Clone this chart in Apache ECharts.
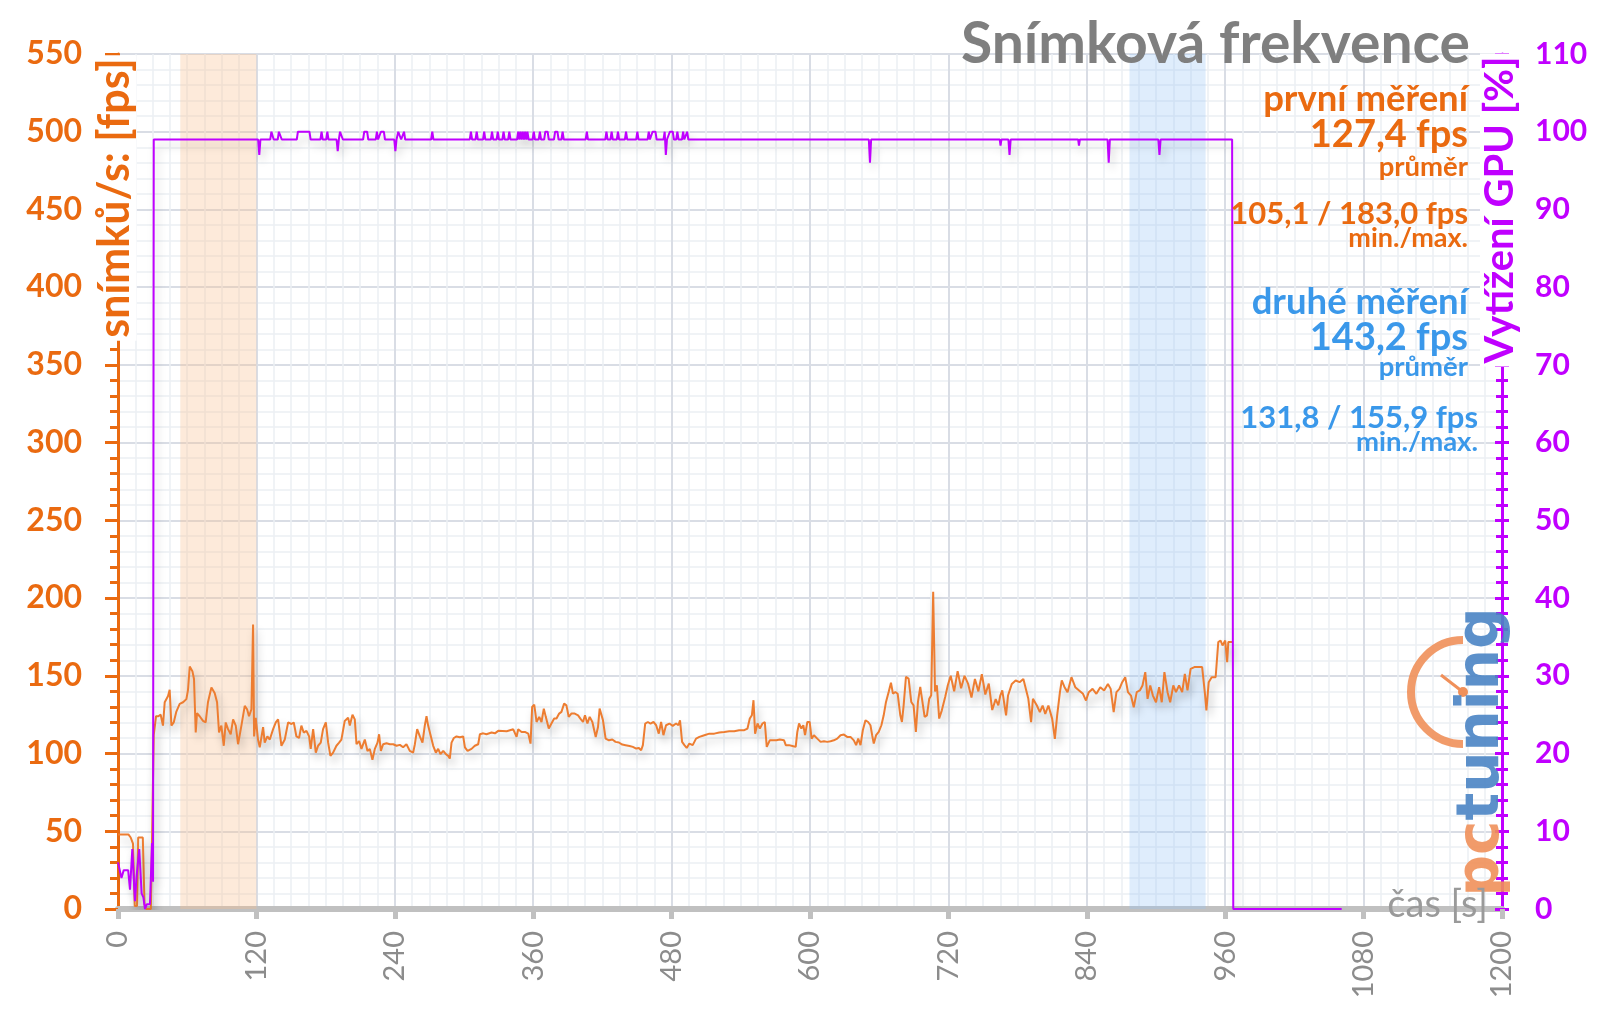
<!DOCTYPE html>
<html>
<head>
<meta charset="utf-8">
<script src="https://cdn.jsdelivr.net/npm/echarts@6/dist/echarts.min.js"></script>
<style>html,body{margin:0;padding:0;background:#fff;}#c{width:1600px;height:1009px;}</style>
</head>
<body>
<div id="c"></div>
<script>
// ---- data ----
const xTicks = [0,120,240,360,480,600,720,840,960,1080,1200];
const fpsTime = [0,3,9,11,13,14.5,16.5,17.5,21.5,23,24.5,28.5,29.5,30.5,
31,33,35,37,39,40.5,42,43.4,44.8,46.3,48.3,50.6,53.5,56.4,59.3,60.7,62.2,64.5,65.9,67.4,68.5,70.8,73.7,76,78,81,83.8,85.9,87.6,89.6,91.7,93.4,95.4,97.7,99.8,102.1,104.1,107,109.9,111.9,113.6,115.7,117.1,118,119.4,121.4,122.9,125.8,127.2,129.5,131.6,134.5,136.8,138.8,141.7,144.6,147.5,150.4,152.4,154.7,157,159,161,163.4,165.7,167.1,169.2,171.5,173.5,175.8,177.8,180.2,182.2,184.2,186.5,189.4,191.7,193.7,196.6,198.1,199.5,201,203.3,205.3,206.8,209.1,211.1,214,216.3,218.3,220.6,222.7,225,226.4,227.9,229.9,232.8,235.7,238.6,241.5,244.4,247.2,250.1,253,255.9,257.4,259.4,261.7,264,266,267.5,268.9,271.3,273.3,275.6,277.6,279.6,282,284.3,286.3,287.7,289.2,291.2,293.5,296.4,299.3,300.8,303.1,306.5,309.4,312.3,313.8,316.7,319.5,323.9,326.8,329.7,
331.2,337,342.7,345.6,347,349.9,352.8,355.7,357.7,359.1,360.9,362.9,365.2,367.2,369.2,370.9,373.5,375.8,378.2,380.2,382.5,384.5,386.8,388.8,390.8,393.1,396,398.9,400.9,403.2,404.9,407,409,411.3,414.2,416.2,417.6,419.1,420.5,422.8,425.7,428.6,431.4,434.3,437.2,440.1,443.5,446.4,449.3,451.6,453.6,455.1,457.1,459.4,461.7,464.3,466.6,468.9,470.9,472.9,475.2,478.1,481,483.9,485.9,487.3,489.1,491.1,493.1,495.4,498.3,501.2,504.1,508.4,512.7,517,521.3,525.7,530,534.3,538.6,543,545.8,547.8,549.6,551,552.4,554.5,556.5,558.8,560.8,562.5,565.1,568,570.9,573.8,577.5,579,581.8,584.7,587.6,589,590.5,592.5,594.2,595.7,597.7,599.7,601.4,603.4,606.3,609.2,612.1,615,617.8,620.7,623.6,626.5,629.4,632.2,635.1,638,640,641.8,643.8,645.8,648.1,650.4,652.4,653.9,655.3,657.3,659.6,661.9,663.9,665.9,668.2,670.2,671.9,674,676,678.3,679.7,681.2,683.2,685.5,687.8,689.8,691.8,693.6,695.6,697.1,699.4,701.4,703.4,705.1,706.8,708.4,710,712,714.3,717.2,719.5,
722,725,728,731,734,737,740,743,746,749,752,755,758,761,
763.3,765,766.7,770,771.7,775,778.3,781.7,785,786.7,789.3,791.7,793.3,796.7,799.3,801.7,804,806.7,810,812.3,814.3,816.7,818.3,820.7,823.3,826.7,830,833.3,836.7,839.3,841.7,845,848.3,851.7,855,858.3,860.7,863.3,865.7,868.3,870.7,873.3,875.7,878.3,880.7,883.3,886,888.3,890.7,892.7,895,897.3,900,902.7,905,907.3,910,912.3,915,917.3,920,922.7,925,927.3,930,933.3,936.7,940,942.3,943.7,945.7,948.3,951.7,954,956,957.7,960,961.7,962.7,966];
const fpsValue = [48,48,48,46,42,2,2,46,46,3,0,0,45,45,
112,124,124,125,118,133,134,137,141,118,120,127,132,133,135,141,156,153,148,113.5,126,124,121,120,133,142.5,139,133,113.5,118,105,120,115.7,112.4,122,118,106,118,130.7,128.5,124,128.5,183,111,123,109,104,117,107,111,109,115.7,120,122,105,109,120,119,120,111,110,118,113.5,114.6,111,103,115.7,100.6,105,107,115.7,120,107,98.5,100.6,105,107,109,121,122,123,118,125,122,106,108,103,109,101.7,103,96,103,107,112.4,101.7,106,106.6,106,106,105,105.6,104,106,101.7,100.6,106,115.7,111,107,118,124,118,111,105,100.6,103,99.6,101.7,99.6,98.5,96.8,107,110,111,110.5,111,104,101.7,103,105,106,112.4,113,112.4,113.5,113,114.6,
115,114.3,115.6,110.7,115.6,113.9,113.9,112.8,106.4,130,131.5,120.3,123.6,120.3,128.9,123.6,116.1,119.3,122.5,122.5,125.7,126.8,132.1,131,123.6,125.7,125.7,124.6,122.5,120.3,124.6,119.3,123.6,120.3,110.7,117.1,128.9,129.3,121.4,109.6,108.5,109,107.5,107.1,105.8,105.4,104.9,104.3,103.2,103.6,102.1,105.4,119.3,120.3,119.3,120.3,118.2,112.8,120.3,111.8,118.2,119.3,117.8,119.3,118.2,121.4,107.5,105.4,103.6,106.4,105.4,109.6,110.7,111.8,112.8,112.8,113.5,113.9,114.3,114.3,115,115,116.1,122.5,124.6,134.3,112.8,119.3,116.1,119.3,120.3,104.3,108.5,108.5,108.5,109,108.5,105.4,105.4,104.9,104.3,113.9,119.3,116.1,118.2,111.8,120.3,120.3,109.6,111.8,109.6,107.5,107.9,107.5,107.9,108.5,109.6,111.8,112.2,110.7,110.7,108.5,105.4,109.6,105.4,115,121.4,120.3,118.2,111.8,106.4,111.8,113.9,118.2,124.6,133.2,139.6,145.6,138.5,139.6,138.5,124.6,120.3,131,149.3,148.2,133.2,131,113.9,133.2,142.8,141.7,123.6,124.6,135.3,137.5,204,140,143.9,122.5,127.8,136.4,143.9,
150,140,153,142,150,145,136,148,140,151,138,145,128,135,
131,137.3,140.6,124.5,137.3,144.8,147,145.9,148,149.1,135.2,120.2,135.2,130.9,126.6,130.9,125.5,130.9,122.3,109.4,124.5,139.5,147,142.7,139.5,149.1,142.7,140.6,138.4,134.1,139.5,141.6,138.4,142.7,140.6,144.8,141.6,126.6,139.5,141.6,145.9,149.1,139.5,137.3,129.8,139.5,140.6,143.8,152.4,135.2,143.8,137.3,133,142.7,133,152.4,139.5,133,143.8,139.5,143.8,139.5,151.3,140.6,154.5,155.6,155.6,155.6,139.5,127.7,145.9,149.1,149.1,171.7,172.7,169.5,172.7,158.8,171.7,171.7];

const gpuTime = [0,1.7,3,5,8.8,10.4,12.4,14.7,16,18.4,20.5,22,23.4,24.9,27.7,29.5,30.4,31,
121.5,122.5,123.5,132,133,134,135,138.5,139.5,141,142,155,156,166,167,175.5,176.5,177.5,180.5,181.5,182.5,
189.5,190.5,191.5,192.5,194,195,212.5,213.5,216,217,223.5,224.5,225.5,227,228,230.5,231.5,
239.5,240.5,241.5,243,244.5,245.5,247,248,249,271.5,272.5,273.5,
305,306,307,310,311,312,316.5,317.5,318.5,323.3,324.3,325.3,328.3,329.3,330.3,333.3,334.3,335.3,338.3,339.3,340.3,
346,347,348,349,350,351,352,353,354,355,356,359.5,360.5,361.5,364.8,365.8,366.8,369.5,370.5,372.5,373.5,378,379,381,382,384.5,385.5,386.5,
405.5,406.5,407.5,422.5,423.5,424.5,427,428,429,432.5,433.5,434.5,439.5,440.5,441.5,449.3,450.3,451.3,459.2,460.2,461.2,462.5,463.5,466,467,
473,474,475,476,477.5,478.5,481,482,484,485,486,489,490,491,492.5,493.5,494.5,
651,652,653,764.5,765.2,766,772,773,774,832.5,833.2,834,858,859,860,902,903,904,966,967,1061];
const gpuValue = [6,5.8,4,5,5,2.5,7.7,1,4,7.7,2,1.5,0,0.6,0.6,8.5,3.5,99,
99,97,99,99,100,100,99,99,100,100,99,99,100,100,99,99,100,99,99,100,99,
99,97.5,99,100,100,99,99,100,100,99,99,100,99,99,100,100,99,
99,97.5,99,100,100,99,99,100,99,99,100,99,
99,100,99,99,100,99,99,100,99,99,100,99,99,100,99,99,100,99,99,100,99,
99,100,99,100,99,100,99,100,99,100,99,99,100,99,99,100,99,99,100,100,99,99,100,100,99,99,100,99,
99,100,99,99,100,99,99,100,99,99,100,99,99,100,99,99,100,99,99,100,99,99,100,100,99,
99,100,97,99,99,100,100,99,99,100,99,99,100,99,99,100,99,
99,96,99,99,98.2,99,99,97,99,99,98.2,99,99,96,99,99,97,99,99,0,0];

const band1 = [54, 120];   // první měření
const band2 = [877, 943];  // druhé měření
const infoFirst = ['první měření', '127,4 fps', 'průměr', '105,1 / 183,0 fps', 'min./max.'];
const infoSecond = ['druhé měření', '143,2 fps', 'průměr', '131,8 / 155,9 fps', 'min./max.'];
const titleText = 'Snímková frekvence';
const leftAxisName = 'snímků/s: [fps]';
const rightAxisName = 'Vytížení GPU [%]';
const xAxisName = 'čas [s]';

// ---- styles ----
const ORANGE = '#EA6A10', LINE_OR = '#ED7D31', PURPLE = '#C000FF', BLUE = '#3A98EA', GRAY = '#7F7F7F';
const FONT = 'Lato';

const fpsData = fpsTime.map((t, i) => [t, fpsValue[i]]);
const gpuData = gpuTime.map((t, i) => [t, gpuValue[i]]);

function txt(x, y, text, size, color, align, weight) {
  return { type: 'text', x: x, y: y, z: 100,
    style: { text: text, fill: color, font: (weight || 'bold') + ' ' + size + 'px ' + FONT,
      textAlign: align || 'right', align: align || 'right', textVerticalAlign: 'middle', verticalAlign: 'middle' } };
}

const chart = echarts.init(document.getElementById('c'), null, { renderer: 'canvas' });
const gridLine = { lineStyle: { color: '#D9DDE5', width: 2 } };
const minorGrid = { show: true, lineStyle: { color: '#ECEFF4', width: 1.5 } };

chart.setOption({
  animation: false,
  backgroundColor: '#fff',
  grid: { left: 118, right: 98, top: 54, bottom: 100, containLabel: false },
  xAxis: {
    type: 'value', min: 0, max: 1200, interval: 120,
    axisLine: { show: true, lineStyle: { color: '#C0C0C0', width: 6 } },
    axisTick: { show: true, length: 10, lineStyle: { color: '#C0C0C0', width: 5 } },
    minorTick: { show: false, splitNumber: 8 },
    axisLabel: { rotate: 90, margin: 22, color: '#8C8C8C', fontSize: 29, fontFamily: FONT,
      formatter: v => (xTicks.indexOf(v) >= 0 ? String(v) : '') },
    splitLine: gridLine, minorSplitLine: minorGrid
  },
  yAxis: [
    { type: 'value', position: 'left', min: 0, max: 550, interval: 50,
      axisLine: { show: true, lineStyle: { color: ORANGE, width: 3 } },
      axisTick: { show: true, length: 13, lineStyle: { color: ORANGE, width: 3 } },
      minorTick: { show: true, splitNumber: 5, length: 8, lineStyle: { color: ORANGE, width: 3 } },
      axisLabel: { color: ORANGE, fontSize: 32, fontWeight: 'bold', fontFamily: FONT, margin: 36 },
      splitLine: gridLine, minorSplitLine: minorGrid },
    { type: 'value', position: 'right', min: 0, max: 110, interval: 10,
      axisLine: { show: true, lineStyle: { color: PURPLE, width: 3 } },
      axisTick: { show: true, length: 7, lineStyle: { color: PURPLE, width: 3 } },
      minorTick: { show: true, splitNumber: 5, length: 6, lineStyle: { color: PURPLE, width: 3 } },
      axisLabel: { color: PURPLE, fontSize: 30, fontWeight: 'bold', fontFamily: FONT, margin: 33 },
      splitLine: { show: false } },
    { type: 'value', position: 'right', min: 0, max: 110, interval: 10,
      axisLine: { show: false },
      axisTick: { show: true, inside: true, length: 7, lineStyle: { color: PURPLE, width: 3 } },
      minorTick: { show: true, splitNumber: 5, length: 6, lineStyle: { color: PURPLE, width: 3 } },
      axisLabel: { show: false }, splitLine: { show: false } }
  ],
  series: [
    { type: 'line', name: 'fps', data: fpsData, yAxisIndex: 0, showSymbol: false, symbol: 'none',
      lineStyle: { color: LINE_OR, width: 2, shadowColor: 'rgba(0,0,0,0.25)', shadowBlur: 9, shadowOffsetX: 3, shadowOffsetY: 6 },
      markArea: { silent: true, data: [
        [{ xAxis: band1[0], itemStyle: { color: 'rgba(248,190,140,0.32)' } }, { xAxis: band1[1] }],
        [{ xAxis: band2[0], itemStyle: { color: 'rgba(150,195,245,0.30)' } }, { xAxis: band2[1] }]
      ] } },
    { type: 'line', name: 'gpu', data: gpuData, yAxisIndex: 1, showSymbol: false, symbol: 'none',
      lineStyle: { color: PURPLE, width: 2, shadowColor: 'rgba(0,0,0,0.2)', shadowBlur: 9, shadowOffsetX: 3, shadowOffsetY: 6 } }
  ],
  graphic: [
    // logo watermark
    { type: 'arc', z: 50, shape: { cx: 1463, cy: 692, r: 52, startAngle: Math.PI / 2, endAngle: Math.PI * 1.5 },
      style: { stroke: '#F0905A', lineWidth: 8, fill: null, opacity: 0.9 } },
    { type: 'line', z: 50, shape: { x1: 1441, y1: 675, x2: 1463, y2: 692 }, style: { stroke: '#F0905A', lineWidth: 3 } },
    { type: 'circle', z: 50, shape: { cx: 1463, cy: 692, r: 5 }, style: { fill: '#F0905A' } },
    { type: 'text', z: 50, x: 1483, y: 752, rotation: Math.PI / 2,
      style: { text: '{a|pc}{b|tuning}', textAlign: 'center', align: 'center', textVerticalAlign: 'middle', verticalAlign: 'middle', opacity: 0.9,
        rich: { a: { fill: '#F0905A', color: '#F0905A', font: 'bold 58px "DejaVu Sans"' }, b: { fill: '#4A84C4', color: '#4A84C4', font: 'bold 58px "DejaVu Sans"' } } } },
    // title and info
    txt(1470, 45, titleText, 57, GRAY),
    txt(1468, 99, infoFirst[0], 36.5, ORANGE),
    txt(1468, 135, infoFirst[1], 38, ORANGE),
    txt(1468, 167, infoFirst[2], 27.5, ORANGE),
    txt(1468, 214, infoFirst[3], 31, ORANGE),
    txt(1468, 238, infoFirst[4], 27, ORANGE),
    txt(1468, 302, infoSecond[0], 36.5, BLUE),
    txt(1468, 338, infoSecond[1], 38, BLUE),
    txt(1468, 367, infoSecond[2], 27.5, BLUE),
    txt(1478, 418, infoSecond[3], 31, BLUE),
    txt(1478, 442, infoSecond[4], 27.5, BLUE),
    // axis names
    { type: 'text', z: 100, x: 115, y: 198, rotation: Math.PI / 2,
      style: { text: leftAxisName, fill: ORANGE, font: 'bold 43px ' + FONT, textAlign: 'center', align: 'center',
        textVerticalAlign: 'middle', verticalAlign: 'middle', backgroundColor: '#fff', padding: [0, 3] } },
    { type: 'text', z: 100, x: 1500, y: 210, rotation: Math.PI / 2,
      style: { text: rightAxisName, fill: PURPLE, font: 'bold 40px ' + FONT, textAlign: 'center', align: 'center',
        textVerticalAlign: 'middle', verticalAlign: 'middle', backgroundColor: '#fff', padding: [0, 3] } },
    { type: 'text', z: 100, x: 1488, y: 905,
      style: { text: xAxisName, fill: '#9A9A9A', font: '38px ' + FONT, textAlign: 'right', align: 'right',
        textVerticalAlign: 'middle', verticalAlign: 'middle' } }
  ]
});
</script>
</body>
</html>
